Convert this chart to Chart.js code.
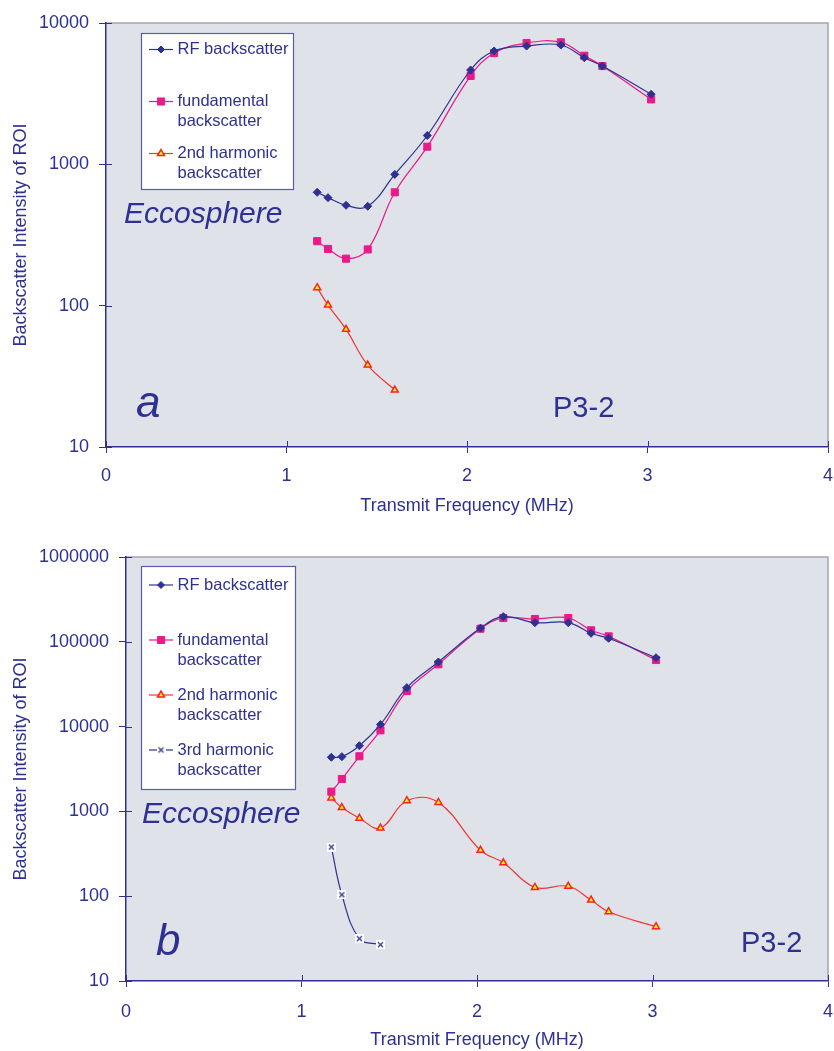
<!DOCTYPE html>
<html>
<head>
<meta charset="utf-8">
<script src="https://cdn.jsdelivr.net/npm/chart.js@4.4.1/dist/chart.umd.min.js"></script>
<style>
  html, body { margin: 0; padding: 0; background: #fff; }
  #wrap { position: relative; width: 834px; height: 1051px; }
  canvas { position: absolute; left: 0; }
</style>
</head>
<body>
<div id="wrap">
  <canvas id="chartA" width="834" height="525" style="top:0;width:834px;height:525px"></canvas>
  <canvas id="chartB" width="834" height="526" style="top:525px;width:834px;height:526px"></canvas>
</div>
<script>
// transmit frequencies (MHz), shared by both panels
const freqs = [1.17, 1.23, 1.33, 1.45, 1.6, 1.78, 2.02, 2.15, 2.33, 2.52, 2.65, 2.75, 3.02];

// panel a
const rfA     = [634, 581, 513, 505, 849, 1600, 4650, 6340, 6870, 6990, 5680, 4960, 3130];
const fundA   = [286, 252, 215, 250, 634, 1333, 4220, 6130, 7220, 7300, 5870, 4960, 2880];
const secondA = [134, 101, 68, 38, 25.3];

// panel b
const rfB     = [4350, 4420, 5950, 10600, 28800, 57800, 145000, 198000, 168000, 168000, 126000, 110000, 64900];
const fundB   = [1710, 2410, 4470, 9040, 26300, 54300, 142700, 190800, 185700, 190800, 136700, 116000, 61000];
const secondB = [1440, 1110, 829, 637, 1337, 1274, 348, 248, 127, 131, 90, 65.6, 43.7];
const thirdB  = [380, 104, 31.6, 26.8];

const xTicks  = [0, 1, 2, 3, 4];
const yTicksA = [10, 100, 1000, 10000];
const yTicksB = [10, 100, 1000, 10000, 100000, 1000000];

const seriesLabels = ["RF backscatter", "fundamental\nbackscatter", "2nd harmonic\nbackscatter", "3rd harmonic\nbackscatter"];
const xTitle = "Transmit Frequency (MHz)";
const yTitle = "Backscatter Intensity of ROI";

const NAVY = "#2e3192";
const MAGENTA = "#ea1a8a";
const RED = "#f23535";
const PLOT_BG = "#dfe2e8";
const FONT = "'Liberation Sans', Arial, Helvetica, sans-serif";

// little white box with an x, like the 3rd harmonic markers
const xMark = document.createElement("canvas");
xMark.width = 9; xMark.height = 9;
(function () {
  const c = xMark.getContext("2d");
  c.fillStyle = "#fff";
  c.fillRect(0, 0, 9, 9);
  c.strokeStyle = NAVY;
  c.lineWidth = 1.2;
  c.beginPath();
  c.moveTo(2, 2); c.lineTo(7, 7);
  c.moveTo(7, 2); c.lineTo(2, 7);
  c.stroke();
})();

const styles = [
  { borderColor: NAVY, backgroundColor: NAVY, pointBorderColor: NAVY, pointBackgroundColor: NAVY,
    pointStyle: "rectRot", pointRadius: 4, pointBorderWidth: 1, legendRadius: 3.5 },
  { borderColor: MAGENTA, backgroundColor: MAGENTA, pointBorderColor: MAGENTA, pointBackgroundColor: MAGENTA,
    pointStyle: "rect", pointRadius: 5, pointBorderWidth: 1, legendRadius: 5 },
  { borderColor: RED, backgroundColor: "#ffff00", pointBorderColor: "#ff2020", pointBackgroundColor: "#ffff00",
    pointStyle: "triangle", pointRadius: 4, pointBorderWidth: 1.5, legendRadius: 4 },
  { borderColor: NAVY, backgroundColor: "#fff", pointBorderColor: NAVY, pointBackgroundColor: "#fff",
    pointStyle: xMark, pointRadius: 4, pointBorderWidth: 0, legendRadius: 4 }
];

function series(i, ys) {
  return Object.assign({
    label: seriesLabels[i],
    data: ys.map((y, k) => ({ x: freqs[k], y: y })),
    borderWidth: 1.2,
    tension: 0.4,
    fill: false
  }, styles[i]);
}

// grey plot area, grey top/right border, ticks crossing the axes
const framePlugin = {
  id: "frame",
  beforeDraw(chart) {
    const { ctx, chartArea: a } = chart;
    ctx.save();
    ctx.fillStyle = PLOT_BG;
    ctx.fillRect(a.left, a.top, a.width, a.height);
    ctx.strokeStyle = "#a4a4ac";
    ctx.lineWidth = 1.5;
    ctx.beginPath();
    ctx.moveTo(a.left, a.top);
    ctx.lineTo(a.right, a.top);
    ctx.lineTo(a.right, a.bottom);
    ctx.stroke();
    ctx.restore();
  },
  afterDraw(chart) {
    const { ctx, chartArea: a, scales } = chart;
    ctx.save();
    ctx.strokeStyle = NAVY;
    ctx.lineWidth = 1;
    ctx.beginPath();
    scales.x.ticks.forEach(t => {
      const px = Math.round(scales.x.getPixelForValue(t.value)) + 0.5;
      ctx.moveTo(px, a.bottom); ctx.lineTo(px, a.bottom - 6);
    });
    scales.y.ticks.forEach(t => {
      const py = Math.round(scales.y.getPixelForValue(t.value)) + 0.5;
      ctx.moveTo(a.left, py); ctx.lineTo(a.left + 6, py);
    });
    ctx.stroke();
    ctx.restore();
  }
};

// boxed legend with two-line labels
const legendPlugin = {
  id: "boxLegend",
  afterDraw(chart, args, o) {
    const { ctx, chartArea: a } = chart;
    const x0 = o.left, y0 = a.top + o.top;
    ctx.save();
    ctx.fillStyle = "#fff";
    ctx.fillRect(x0, y0, o.width, o.height);
    ctx.strokeStyle = "#5a5ca8";
    ctx.lineWidth = 1.2;
    ctx.strokeRect(x0 + 0.5, y0 + 0.5, o.width, o.height);
    chart.data.datasets.forEach((ds, i) => {
      const cy = y0 + o.first + i * o.gap;
      ctx.strokeStyle = ds.borderColor;
      ctx.lineWidth = 1.2;
      ctx.beginPath();
      ctx.moveTo(x0 + 8, cy); ctx.lineTo(x0 + 32, cy);
      ctx.stroke();
      ctx.fillStyle = ds.pointBackgroundColor;
      ctx.strokeStyle = ds.pointBorderColor;
      ctx.lineWidth = ds.pointBorderWidth;
      Chart.helpers.drawPoint(ctx, {
        pointStyle: ds.pointStyle, radius: ds.legendRadius, rotation: 0, borderWidth: ds.pointBorderWidth
      }, x0 + 20, cy);
      ctx.fillStyle = NAVY;
      ctx.font = "16.5px " + FONT;
      ctx.textBaseline = "middle";
      ctx.textAlign = "left";
      ds.label.split("\n").forEach((t, j) => ctx.fillText(t, x0 + 36.5, cy + j * 20));
    });
    ctx.restore();
  }
};

// free text inside the plot
const notesPlugin = {
  id: "notes",
  afterDraw(chart, args, o) {
    const ctx = chart.ctx;
    ctx.save();
    ctx.fillStyle = NAVY;
    ctx.textBaseline = "alphabetic";
    ctx.textAlign = "left";
    o.items.forEach(n => {
      ctx.font = n.font + " " + FONT;
      ctx.fillText(n.text, n.x, n.y);
    });
    ctx.restore();
  }
};

function makeChart(id, datasets, yTicks, lay, legendOpts, notes) {
  return new Chart(document.getElementById(id), {
    type: "line",
    data: { datasets: datasets },
    options: {
      responsive: false,
      animation: false,
      events: [],
      layout: { padding: { top: lay.top, right: lay.right, left: 0, bottom: 0 } },
      plugins: {
        legend: { display: false },
        tooltip: { enabled: false },
        boxLegend: legendOpts,
        notes: { items: notes }
      },
      scales: {
        x: {
          type: "linear",
          min: 0, max: 4,
          afterBuildTicks: s => { s.ticks = xTicks.map(v => ({ value: v })); },
          afterFit: s => { s.height = lay.xh; s.paddingLeft = 0; s.paddingRight = 0; },
          grid: { drawOnChartArea: false, color: NAVY, tickLength: 6 },
          border: { color: NAVY, width: 1.5 },
          ticks: { color: NAVY, font: { family: FONT, size: 18 }, padding: lay.xtp, maxRotation: 0 },
          title: { display: true, text: xTitle, color: NAVY, font: { family: FONT, size: 18 }, padding: { top: 0, bottom: lay.xtb } }
        },
        y: {
          type: "logarithmic",
          min: yTicks[0], max: yTicks[yTicks.length - 1],
          afterBuildTicks: s => { s.ticks = yTicks.map(v => ({ value: v })); },
          afterFit: s => { s.width = lay.yw; s.paddingTop = 0; s.paddingBottom = 0; },
          grid: { drawOnChartArea: false, color: NAVY, tickLength: 7 },
          border: { color: NAVY, width: 1.5 },
          ticks: { color: NAVY, font: { family: FONT, size: 18 }, padding: 10, callback: v => String(v) },
          title: { display: true, text: yTitle, color: NAVY, font: { family: FONT, size: 18 }, padding: { top: 10, bottom: 0 } }
        }
      }
    },
    plugins: [framePlugin, legendPlugin, notesPlugin]
  });
}

makeChart("chartA",
  [series(0, rfA), series(1, fundA), series(2, secondA)],
  yTicksA,
  { top: 23, right: 5, xh: 78, yw: 106, xtb: 8, xtp: 12 },
  { left: 141, top: 10, width: 152, height: 156, first: 16.5, gap: 52 },
  [
    { text: "Eccosphere", x: 124, y: 223, font: "italic 30px" },
    { text: "a", x: 136, y: 417, font: "italic 44px" },
    { text: "P3-2", x: 553, y: 417, font: "29px" }
  ]);

makeChart("chartB",
  [series(0, rfB), series(1, fundB), series(2, secondB), series(3, thirdB)],
  yTicksB,
  { top: 32, right: 3, xh: 70, yw: 126, xtb: 0, xtp: 14 },
  { left: 141, top: 9, width: 154, height: 223, first: 19, gap: 55 },
  [
    { text: "Eccosphere", x: 142, y: 298, font: "italic 30px" },
    { text: "b", x: 156, y: 430, font: "italic 44px" },
    { text: "P3-2", x: 741, y: 427, font: "29px" }
  ]);
</script>
</body>
</html>
